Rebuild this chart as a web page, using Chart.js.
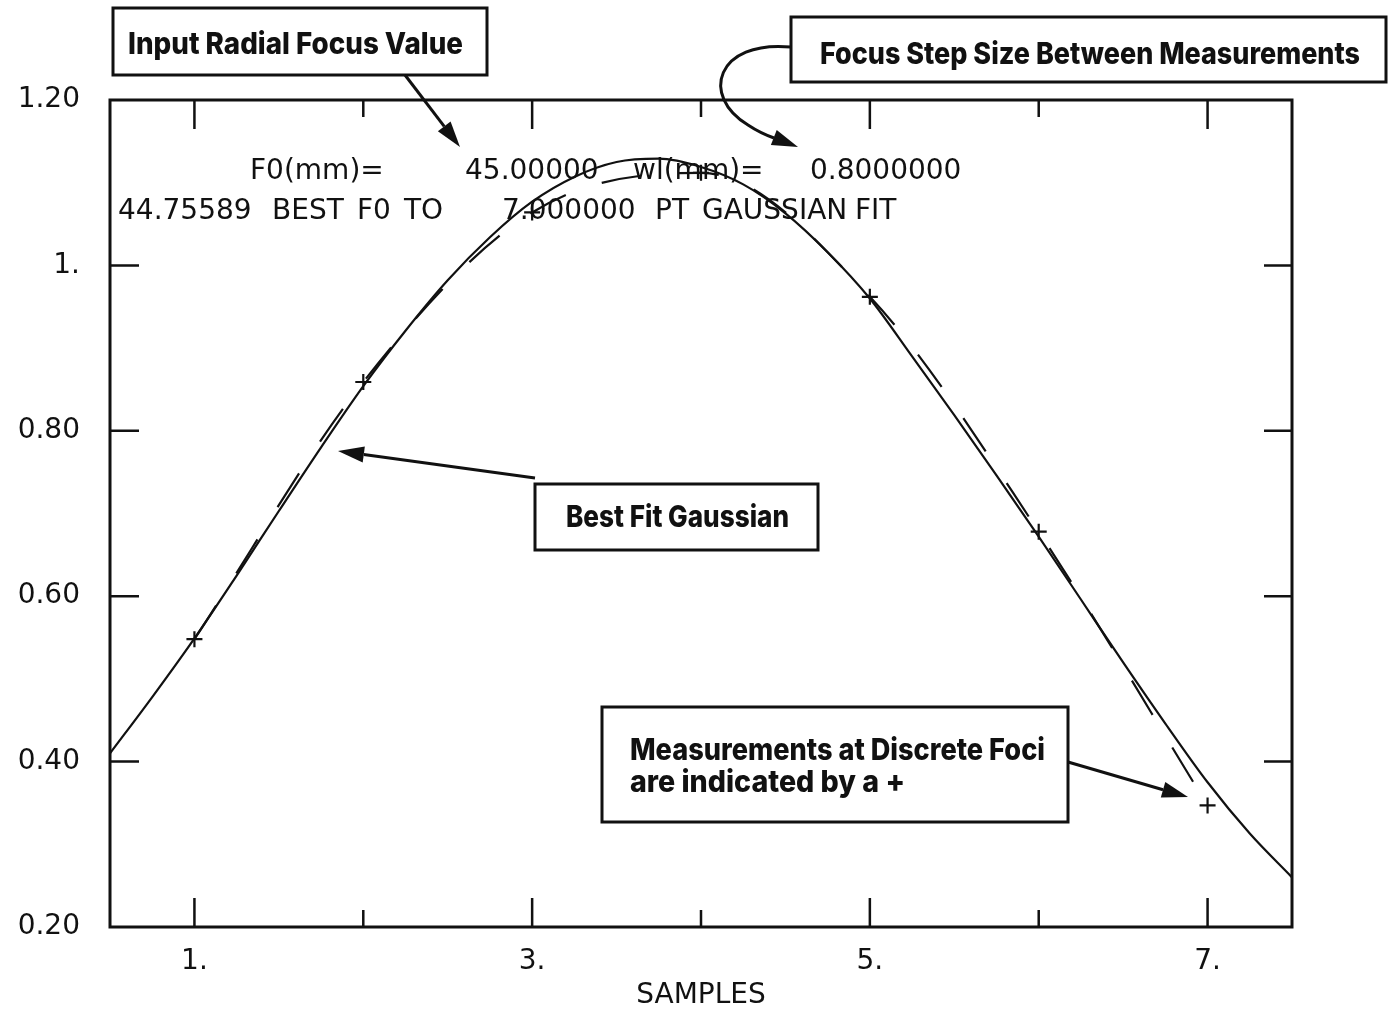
<!DOCTYPE html>
<html>
<head>
<meta charset="utf-8">
<script src="https://cdn.jsdelivr.net/npm/chart.js@4/dist/chart.umd.min.js"></script>
<style>
  html, body { margin: 0; padding: 0; background: #fff; }
</style>
</head>
<body>
<canvas id="focusChart" width="1389" height="1013"></canvas>
<script>
// measured response at each focus sample
const sampleX = [1, 2, 3, 4, 5, 6, 7];
const sampleY = [0.548, 0.859, 1.064, 1.112, 0.962, 0.678, 0.347];

// best fit gaussian, read at quarter-sample steps
const fitX = [0.5, 0.75, 1, 1.25, 1.5, 1.75, 2, 2.25, 2.5, 2.75, 3, 3.25, 3.5, 3.75,
              4, 4.25, 4.5, 4.75, 5, 5.25, 5.5, 5.75, 6, 6.25, 6.5, 6.75, 7, 7.25, 7.5];
const fitY = [0.410, 0.478, 0.549, 0.625, 0.703, 0.780, 0.854, 0.921, 0.982, 1.034, 1.077, 1.107, 1.125, 1.129,
              1.119, 1.098, 1.063, 1.016, 0.960, 0.890, 0.819, 0.746, 0.672, 0.596, 0.520, 0.446, 0.375, 0.313, 0.260];

const xTicks = [1, 2, 3, 4, 5, 6, 7];
const xTickLabels = ['1.', '', '3.', '', '5.', '', '7.'];
const yTicks = [0.2, 0.4, 0.6, 0.8, 1.0, 1.2];
const yTickLabels = ['0.20', '0.40', '0.60', '0.80', '1.', '1.20'];

const INK = '#111';
const plotFont = { family: '"DejaVu Sans", sans-serif', size: 28 };

// printed run parameters inside the plot
const headerRows = [
  { base: 179, parts: [['F0(mm)=', 250], ['45.00000', 465], ['wl(mm)=', 633], ['0.8000000', 810]] },
  { base: 219, parts: [['44.75589', 118], ['BEST', 272], ['F0', 357], ['TO', 404],
                       ['7.000000', 502], ['PT', 655], ['GAUSSIAN', 702], ['FIT', 855]] }
];

// callout boxes
const callouts = [
  { x: 113, y: 8, w: 374, h: 67, lines: [['Input Radial Focus Value', 128, 463, 54]] },
  { x: 791, y: 17, w: 595, h: 65, lines: [['Focus Step Size Between Measurements', 820, 1360, 64]] },
  { x: 535, y: 484, w: 283, h: 66, lines: [['Best Fit Gaussian', 566, 789, 527]] },
  { x: 602, y: 707, w: 466, h: 115, lines: [['Measurements at Discrete Foci', 630, 1045, 760],
                                             ['are indicated by a +', 630, 905, 792]] }
];

function fitText(ctx, text, left, right, base) {
  const w = ctx.measureText(text).width;
  ctx.save();
  ctx.translate(left, base);
  ctx.scale((right - left) / w, 1);
  ctx.fillText(text, 0, 0);
  ctx.restore();
}

function arrowHead(ctx, tx, ty, ang) {
  const len = 26, half = 8;
  const bx = tx - len * Math.cos(ang), by = ty - len * Math.sin(ang);
  ctx.beginPath();
  ctx.moveTo(tx, ty);
  ctx.lineTo(bx + half * Math.sin(ang), by - half * Math.cos(ang));
  ctx.lineTo(bx - half * Math.sin(ang), by + half * Math.cos(ang));
  ctx.closePath();
  ctx.fill();
  return [bx, by];
}

function arrow(ctx, x1, y1, x2, y2) {
  const [bx, by] = arrowHead(ctx, x2, y2, Math.atan2(y2 - y1, x2 - x1));
  ctx.beginPath();
  ctx.moveTo(x1, y1);
  ctx.lineTo(bx, by);
  ctx.stroke();
}

// box frame with inward ticks on all four sides
const frame = {
  id: 'frame',
  afterDatasetsDraw(chart) {
    const { ctx, chartArea: a, scales: { x, y } } = chart;
    ctx.save();
    ctx.strokeStyle = INK;
    ctx.lineWidth = 3;
    ctx.strokeRect(a.left, a.top, a.right - a.left, a.bottom - a.top);
    ctx.lineWidth = 2.5;
    ctx.beginPath();
    xTicks.forEach(v => {
      const px = x.getPixelForValue(v);
      const len = v % 2 ? 29 : 17;
      ctx.moveTo(px, a.bottom); ctx.lineTo(px, a.bottom - len);
      ctx.moveTo(px, a.top); ctx.lineTo(px, a.top + len);
    });
    yTicks.slice(1, -1).forEach(v => {
      const py = y.getPixelForValue(v);
      ctx.moveTo(a.left, py); ctx.lineTo(a.left + 29, py);
      ctx.moveTo(a.right, py); ctx.lineTo(a.right - 28, py);
    });
    ctx.stroke();
    ctx.restore();
  }
};

const notes = {
  id: 'notes',
  afterDraw(chart) {
    const ctx = chart.ctx;
    ctx.save();
    ctx.fillStyle = INK;
    ctx.strokeStyle = INK;
    ctx.textBaseline = 'alphabetic';
    ctx.textAlign = 'left';

    ctx.font = '28px "DejaVu Sans"';
    headerRows.forEach(row => row.parts.forEach(([t, x]) => ctx.fillText(t, x, row.base)));

    ctx.font = '800 30px Inter, Lato, "DejaVu Sans"';
    callouts.forEach(c => {
      ctx.lineWidth = 3;
      ctx.strokeRect(c.x, c.y, c.w, c.h);
      c.lines.forEach(([t, l, r, b]) => fitText(ctx, t, l, r, b));
    });

    ctx.lineWidth = 3;
    arrow(ctx, 405, 75, 460, 147);
    arrow(ctx, 535, 478, 338, 451);
    arrow(ctx, 1068, 762, 1188, 797);

    // curved pointer from the step-size box
    ctx.beginPath();
    ctx.moveTo(791, 47);
    ctx.bezierCurveTo(716, 40, 700, 96, 748, 125);
    ctx.quadraticCurveTo(760, 133, 774, 138);
    ctx.stroke();
    arrowHead(ctx, 798, 147, Math.atan2(147 - 136, 798 - 770));
    ctx.restore();
  }
};

new Chart(document.getElementById('focusChart'), {
  type: 'line',
  data: {
    datasets: [
      {
        label: 'Gaussian fit',
        data: fitX.map((x, i) => ({ x, y: fitY[i] })),
        borderColor: INK,
        borderWidth: 2.2,
        pointRadius: 0,
        cubicInterpolationMode: 'monotone',
        fill: false
      },
      {
        label: 'Measured trace',
        data: sampleX.map((x, i) => ({ x, y: sampleY[i] })),
        borderColor: INK,
        borderWidth: 2.2,
        borderDash: [40, 38],
        pointRadius: 0,
        cubicInterpolationMode: 'monotone',
        fill: false
      },
      {
        label: 'Measured',
        data: sampleX.map((x, i) => ({ x, y: sampleY[i] })),
        showLine: false,
        pointStyle: 'cross',
        pointRadius: 8,
        pointBorderWidth: 2.2,
        pointBorderColor: INK
      }
    ]
  },
  options: {
    responsive: false,
    animation: false,
    layout: { padding: { top: 100, right: 97, left: 0, bottom: 0 } },
    plugins: {
      legend: { display: false },
      tooltip: { enabled: false }
    },
    scales: {
      x: {
        type: 'linear',
        min: 0.5,
        max: 7.5,
        afterBuildTicks: s => { s.ticks = xTicks.map(v => ({ value: v })); },
        afterFit: s => { s.height = 86; },
        ticks: {
          callback: (v, i) => xTickLabels[i],
          font: plotFont,
          color: INK,
          padding: 18,
          maxRotation: 0,
          autoSkip: false
        },
        grid: { display: false, drawTicks: false },
        border: { display: false },
        title: {
          display: true,
          text: 'SAMPLES',
          font: plotFont,
          color: INK,
          padding: { top: 0, bottom: 0 }
        }
      },
      y: {
        min: 0.2,
        max: 1.2,
        afterBuildTicks: s => { s.ticks = yTicks.map(v => ({ value: v })); },
        afterFit: s => { s.width = 110; },
        ticks: {
          callback: (v, i) => yTickLabels[i],
          font: plotFont,
          color: INK,
          padding: 30
        },
        grid: { display: false, drawTicks: false },
        border: { display: false }
      }
    }
  },
  plugins: [frame, notes]
});
</script>
</body>
</html>
